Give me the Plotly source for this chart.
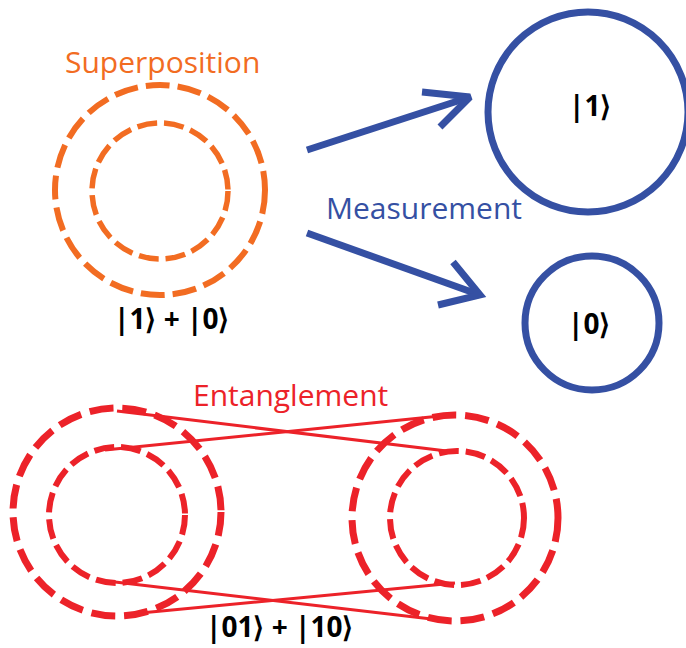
import plotly.graph_objects as go

# ---- diagram data (pixel-space coordinates of the reference) ----
ORANGE = "#f26c22"
BLUE = "#3550a3"
RED = "#ec2229"

# Superposition: concentric dashed circles
sup_cx = [160, 160]
sup_cy = [190, 191]
sup_r = [105, 68]
sup_width = [6, 5.5]
sup_dash = ["24px,8px", "20px,7px"]

# Measurement outcomes: solid circles
meas_cx = [588, 592]
meas_cy = [112, 323]
meas_r = [100, 67]
meas_labels = ["|1⟩", "|0⟩"]
meas_label_x = [590, 589]
meas_label_y = [105, 323]

# Arrows: shaft start, tip, two arm ends
arrow_x0 = [307, 307]
arrow_y0 = [150, 233]
arrow_tip_x = [470, 480]
arrow_tip_y = [97, 295]
arm1_x = [422, 453]
arm1_y = [92, 262]
arm2_x = [440, 438]
arm2_y = [127, 305]

# Entanglement: two pairs of dashed circles
ent_cx = [117, 117, 455, 457]
ent_cy = [512, 515, 518, 518]
ent_r = [104, 68, 103, 67]
ent_width = [7, 6, 7, 6]
ent_dash = ["24px,9px", "20px,7px", "24px,9px", "20px,7px"]

# Entanglement link lines
link_x0 = [117, 105, 115, 130]
link_y0 = [411, 450, 582, 614]
link_x1 = [455, 450, 440, 455]
link_y1 = [452, 415, 620, 583]

# Text labels
titles = ["Superposition", "Measurement", "Entanglement"]
title_x = [162, 424, 290]
title_y = [61, 207, 394]
title_color = [ORANGE, BLUE, RED]

state_labels = ["|1⟩ + |0⟩", "|01⟩ + |10⟩"]
state_x = [171, 279]
state_y = [318, 626]

W, H = 686, 648

fig = go.Figure()
shapes = []

for cx, cy, r, w, d in zip(sup_cx, sup_cy, sup_r, sup_width, sup_dash):
    shapes.append(dict(type="circle", xref="x", yref="y",
                       x0=cx - r, x1=cx + r, y0=cy - r, y1=cy + r,
                       line=dict(color=ORANGE, width=w, dash=d)))

for cx, cy, r in zip(meas_cx, meas_cy, meas_r):
    shapes.append(dict(type="circle", xref="x", yref="y",
                       x0=cx - r, x1=cx + r, y0=cy - r, y1=cy + r,
                       line=dict(color=BLUE, width=7)))

for cx, cy, r, w, d in zip(ent_cx, ent_cy, ent_r, ent_width, ent_dash):
    shapes.append(dict(type="circle", xref="x", yref="y",
                       x0=cx - r, x1=cx + r, y0=cy - r, y1=cy + r,
                       line=dict(color=RED, width=w, dash=d)))

fig.update_layout(shapes=shapes)

# Arrows
for i in range(len(arrow_x0)):
    fig.add_trace(go.Scatter(x=[arrow_x0[i], arrow_tip_x[i]],
                             y=[arrow_y0[i], arrow_tip_y[i]],
                             mode="lines", line=dict(color=BLUE, width=7),
                             hoverinfo="skip", showlegend=False))
    fig.add_trace(go.Scatter(x=[arm1_x[i], arrow_tip_x[i], arm2_x[i]],
                             y=[arm1_y[i], arrow_tip_y[i], arm2_y[i]],
                             mode="lines", line=dict(color=BLUE, width=7),
                             hoverinfo="skip", showlegend=False))

# Links
for i in range(len(link_x0)):
    fig.add_trace(go.Scatter(x=[link_x0[i], link_x1[i]],
                             y=[link_y0[i], link_y1[i]],
                             mode="lines", line=dict(color=RED, width=3),
                             hoverinfo="skip", showlegend=False))

annotations = []
for t, x, y, c in zip(titles, title_x, title_y, title_color):
    annotations.append(dict(text=t, x=x, y=y, xref="x", yref="y",
                            showarrow=False, xanchor="center", yanchor="middle",
                            font=dict(family="Open Sans", size=30, color=c)))
for t, x, y in zip(state_labels, state_x, state_y):
    annotations.append(dict(text="<b>" + t + "</b>", x=x, y=y, xref="x", yref="y",
                            showarrow=False, xanchor="center", yanchor="middle",
                            font=dict(family="Open Sans", size=28, color="black")))
for t, x, y in zip(meas_labels, meas_label_x, meas_label_y):
    annotations.append(dict(text="<b>" + t + "</b>", x=x, y=y, xref="x", yref="y",
                            showarrow=False, xanchor="center", yanchor="middle",
                            font=dict(family="Open Sans", size=28, color="black")))

fig.update_layout(
    annotations=annotations,
    width=W, height=H,
    margin=dict(l=0, r=0, t=0, b=0),
    paper_bgcolor="white", plot_bgcolor="white",
    xaxis=dict(range=[0, W], visible=False, fixedrange=True),
    yaxis=dict(range=[H, 0], visible=False, fixedrange=True),
    showlegend=False,
)

fig.write_html(
    "out.html",
    config={"displayModeBar": False},
    post_script="document.body.style.margin='0px';document.body.style.overflow='hidden';",
)
